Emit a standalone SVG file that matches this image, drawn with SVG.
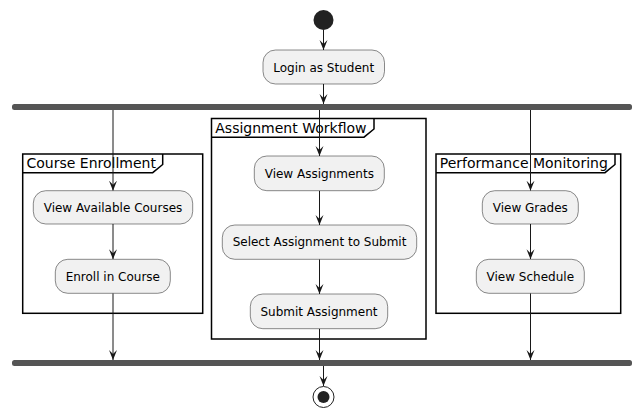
<svg xmlns="http://www.w3.org/2000/svg" width="642" height="418" viewBox="0 0 642 418">
<style>
.box{fill:#F1F1F1;stroke:#181818;stroke-width:0.5}
.lbl{font-family:"DejaVu Sans",sans-serif;font-size:12px;fill:#000;text-anchor:middle}
.frame{fill:none;stroke:#000;stroke-width:1.5}
.ttl{font-family:"DejaVu Sans",sans-serif;font-size:14px;fill:#000}
.ln{stroke:#181818;stroke-width:1;fill:none}
.bar{fill:#555555;stroke:none}
</style>
<defs>
<marker id="ah" markerWidth="12" markerHeight="10" refX="10" refY="5" orient="auto" markerUnits="userSpaceOnUse" viewBox="0 0 12 10">
<polygon points="0,1 10,5 0,9 4,5" fill="#181818"/>
</marker>
</defs>
<rect width="642" height="418" fill="#FFFFFF"/>
<g id="frames">
<g id="frame-course">
<rect class="frame" x="22.7" y="154" width="180" height="159.3"/>
<polyline class="frame" points="22.7,172.7 152.7,172.7 162.7,164.5 162.7,154"/>
<text class="ttl" x="26.5" y="168">Course Enrollment</text>
</g>
<g id="frame-assign">
<rect class="frame" x="211.5" y="118.5" width="214.5" height="220.5"/>
<polyline class="frame" points="211.5,137.2 364,137.2 374,129 374,118.5"/>
<text class="ttl" x="215.3" y="132.5">Assignment Workflow</text>
</g>
<g id="frame-perf">
<rect class="frame" x="436" y="154" width="184.7" height="159.3"/>
<polyline class="frame" points="436,172.7 605,172.7 615,164.5 615,154"/>
<text class="ttl" x="439.8" y="168">Performance Monitoring</text>
</g>
</g>
<g id="connectors">
<line class="ln" x1="323.5" y1="30" x2="323.5" y2="50" marker-end="url(#ah)"/>
<line class="ln" x1="323.5" y1="84" x2="323.5" y2="104" marker-end="url(#ah)"/>
<line class="ln" x1="113" y1="110" x2="113" y2="190.7" marker-end="url(#ah)"/>
<line class="ln" x1="319.5" y1="110" x2="319.5" y2="156" marker-end="url(#ah)"/>
<line class="ln" x1="530.5" y1="110" x2="530.5" y2="190.7" marker-end="url(#ah)"/>
<line class="ln" x1="113" y1="224" x2="113" y2="259.3" marker-end="url(#ah)"/>
<line class="ln" x1="319.5" y1="190.7" x2="319.5" y2="225" marker-end="url(#ah)"/>
<line class="ln" x1="319.5" y1="259.3" x2="319.5" y2="294" marker-end="url(#ah)"/>
<line class="ln" x1="530.5" y1="224" x2="530.5" y2="259.3" marker-end="url(#ah)"/>
<line class="ln" x1="113" y1="293.3" x2="113" y2="360" marker-end="url(#ah)"/>
<line class="ln" x1="319.5" y1="328.7" x2="319.5" y2="360" marker-end="url(#ah)"/>
<line class="ln" x1="530.5" y1="293.3" x2="530.5" y2="360" marker-end="url(#ah)"/>
<line class="ln" x1="323.5" y1="366" x2="323.5" y2="386" marker-end="url(#ah)"/>
</g>
<g id="start"><circle cx="323.5" cy="20" r="10" fill="#222222"/></g>
<g id="login"><rect class="box" x="263" y="50" width="121.5" height="34" rx="12.5"/><text class="lbl" x="323.7" y="71.5">Login as Student</text></g>
<g id="fork"><rect class="bar" x="12" y="104" width="620" height="6" rx="2.5"/></g>
<g id="view-courses"><rect class="box" x="33.3" y="190.7" width="159.4" height="33.3" rx="12.5"/><text class="lbl" x="113" y="211.8">View Available Courses</text></g>
<g id="enroll"><rect class="box" x="55.3" y="259.3" width="115" height="34" rx="12.5"/><text class="lbl" x="112.8" y="280.6">Enroll in Course</text></g>
<g id="view-assign"><rect class="box" x="254.3" y="156" width="130" height="34.7" rx="12.5"/><text class="lbl" x="319.3" y="177.6">View Assignments</text></g>
<g id="select-assign"><rect class="box" x="222.3" y="225" width="194.4" height="34.3" rx="12.5"/><text class="lbl" x="319.5" y="246.4">Select Assignment to Submit</text></g>
<g id="submit-assign"><rect class="box" x="250.3" y="294" width="137.4" height="34.7" rx="12.5"/><text class="lbl" x="319" y="315.6">Submit Assignment</text></g>
<g id="view-grades"><rect class="box" x="482.3" y="190.7" width="96" height="33.3" rx="12.5"/><text class="lbl" x="530.3" y="211.8">View Grades</text></g>
<g id="view-schedule"><rect class="box" x="476.3" y="259.3" width="108" height="34" rx="12.5"/><text class="lbl" x="530.3" y="280.6">View Schedule</text></g>
<g id="join"><rect class="bar" x="12" y="360" width="620" height="6" rx="2.5"/></g>
<g id="end"><circle cx="323.5" cy="397" r="10.5" fill="none" stroke="#222222" stroke-width="1"/><circle cx="323.5" cy="397" r="6" fill="#222222"/></g>
</svg>
